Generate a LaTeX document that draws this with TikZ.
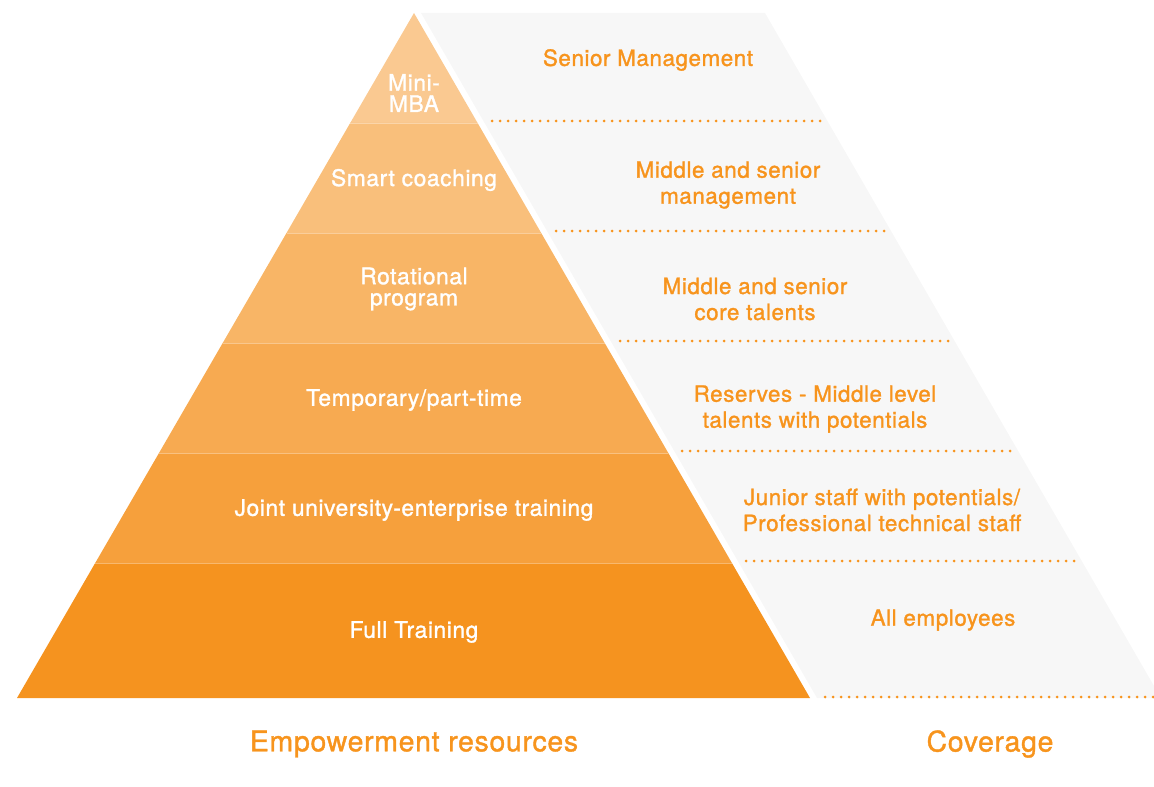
\documentclass[tikz,border=0pt]{standalone}
\usepackage{fontspec}
\usepackage{tikz}
\newfontfamily\pyrfont{TeX Gyre Heros}[FakeBold=1.3,LetterSpace=2.5]

\definecolor{pyrorange}{HTML}{F7941D}
\definecolor{layerA}{HTML}{FAC991}
\definecolor{layerB}{HTML}{F9BF7B}
\definecolor{layerC}{HTML}{F8B566}
\definecolor{layerD}{HTML}{F7AA51}
\definecolor{layerE}{HTML}{F6A03C}
\definecolor{layerF}{HTML}{F5931F}
\definecolor{coverbg}{HTML}{F7F7F7}

\begin{document}
\begin{tikzpicture}[x=0.5pt,y=-0.5pt,align=center,
  resource/.style={text=white,font=\pyrfont\fontsize{11.4}{10.6}\selectfont,inner sep=0pt},
  coverage/.style={text=pyrorange,font=\pyrfont\fontsize{11.2}{13}\selectfont,inner sep=0pt},
  caption/.style={text=pyrorange,font=\pyrfont\fontsize{14.2}{16}\selectfont,inner sep=0pt},
  divider/.style={draw=white,draw opacity=0.35,line width=0.4pt},
  dots/.style={draw=pyrorange,line width=1.5pt,line cap=round,dash pattern=on 0pt off 4pt}]
\useasboundingbox (0,0) rectangle (1154,786);

% coverage band behind the pyramid
\fill[coverbg] (421,13) -- (765,13) -- (1154,686) -- (1154,698) -- (817,698) -- cycle;

% pyramid layers, top to bottom
\fill[layerA] (414,13) -- (477.6,123) -- (350.2,123) -- cycle;
\fill[layerB] (350.2,123) -- (477.6,123) -- (541.2,233) -- (286.5,233) -- cycle;
\fill[layerC] (286.5,233) -- (541.2,233) -- (604.7,343) -- (222.7,343) -- cycle;
\fill[layerD] (222.7,343) -- (604.7,343) -- (668.3,453) -- (159.0,453) -- cycle;
\fill[layerE] (159.0,453) -- (668.3,453) -- (731.9,563) -- (95.2,563) -- cycle;
\fill[layerF] (95.2,563) -- (731.9,563) -- (810,698) -- (17,698) -- cycle;
\path[divider] (350.2,123) -- (477.6,123)
               (286.5,233) -- (541.2,233)
               (222.7,343) -- (604.7,343)
               (159.0,453) -- (668.3,453)
               (95.2,563) -- (731.9,563);

% dotted rules in the coverage band
\path[dots] (492,121) -- (822,121)
            (556,231) -- (886,231)
            (620,341) -- (950,341)
            (682,451) -- (1012,451)
            (746,561) -- (1076,561)
            (825,697) -- (1154,697);

% resource labels
\node[resource] (mba)      at (414,93)  {Mini-\\MBA};
\node[resource] (coaching) at (414,180) {Smart coaching};
\node[resource] (rotation) at (414,289) {Rotational\\program};
\node[resource] (parttime) at (414,400) {Temporary/part-time};
\node[resource] (joint)    at (414,510) {Joint university-enterprise training};
\node[resource] (full)     at (414,632) {Full Training};

% coverage labels
\node[coverage] (senior)    at (648,60)  {Senior Management};
\node[coverage] (midsenior) at (728,185) {Middle and senior\\management};
\node[coverage] (core)      at (755,299) {Middle and senior\\core talents};
\node[coverage] (reserves)  at (815,409) {Reserves - Middle level\\talents with potentials};
\node[coverage] (junior)    at (882,510) {Junior staff with potentials/\\Professional technical staff};
\node[coverage] (all)       at (943,620) {All employees};

% captions
\node[caption] (empower) at (414,744) {Empowerment resources};
\node[caption] (cover)   at (990,744) {Coverage};

\end{tikzpicture}
\end{document}
